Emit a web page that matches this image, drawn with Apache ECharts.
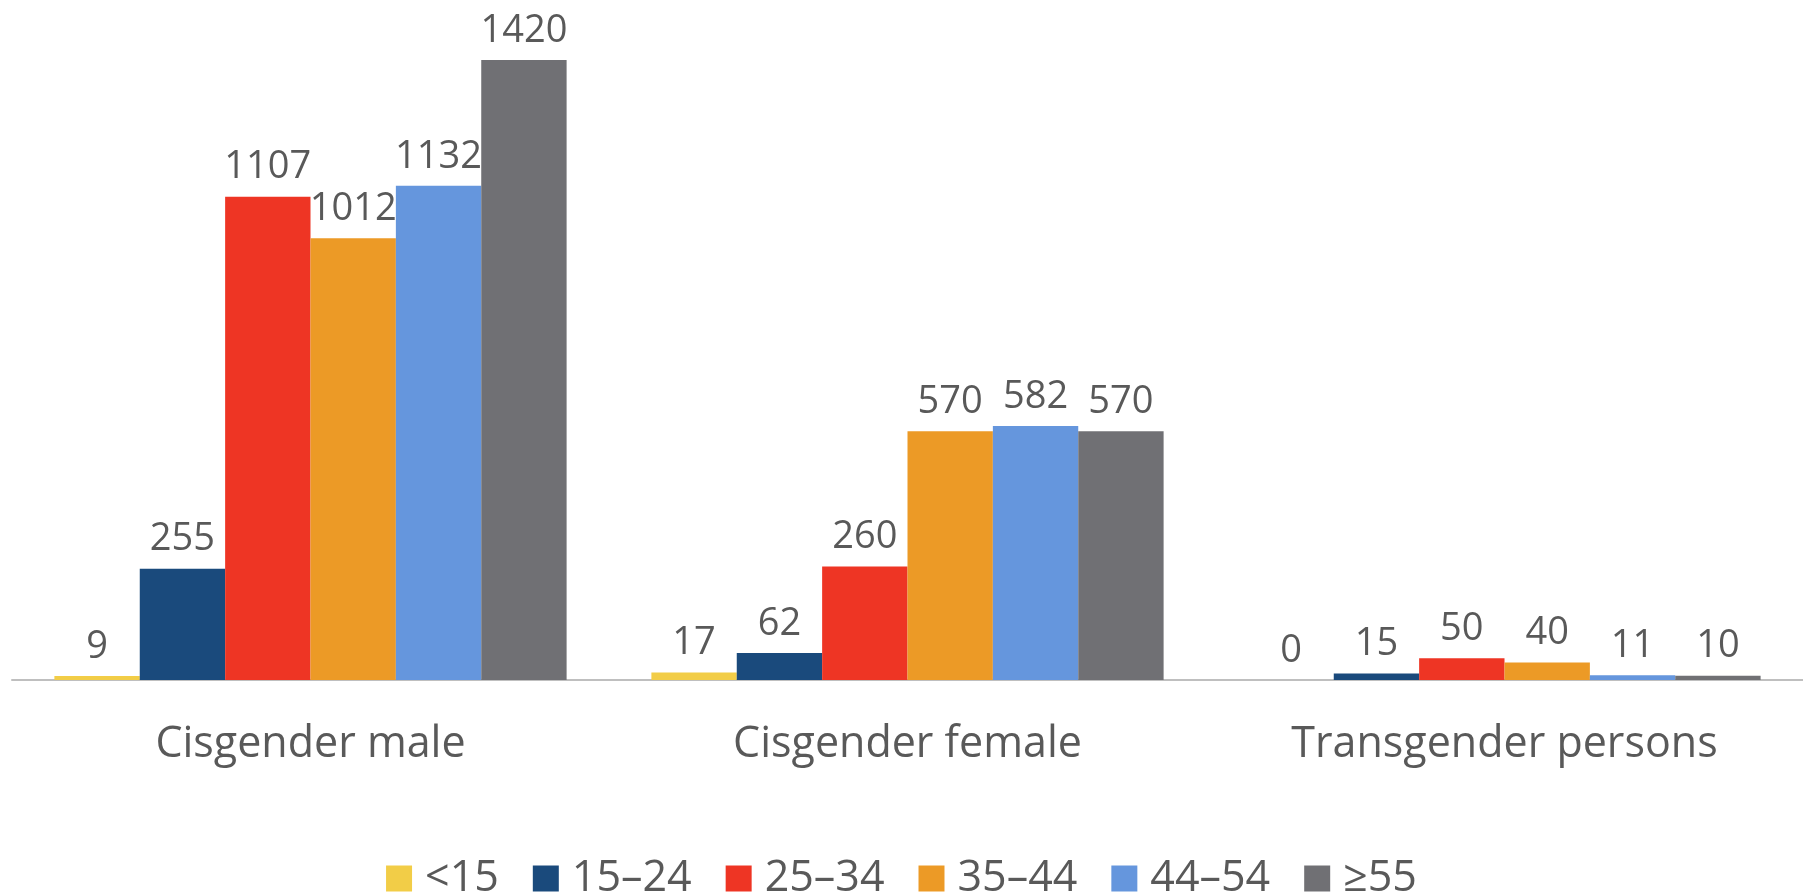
<!DOCTYPE html>
<html>
<head>
<meta charset="utf-8">
<script src="https://cdn.jsdelivr.net/npm/echarts@6/dist/echarts.min.js"></script>
<style>
  html, body { margin: 0; padding: 0; background: #fff; }
  #chart { width: 1803px; height: 893px; }
</style>
</head>
<body>
<div id="chart"></div>
<script>
// categories on x axis
const categories = ['Cisgender male', 'Cisgender female', 'Transgender persons']
// age groups (series)
const ageGroups = ['<15', '15–24', '25–34', '35–44', '44–54', '≥55']
const colors = ['#f2cd47', '#1a4a7c', '#ee3524', '#ec9a26', '#6596dd', '#707074']
// values per age group, in category order
const under15 = [9, 17, 0]
const age15to24 = [255, 62, 15]
const age25to34 = [1107, 260, 50]
const age35to44 = [1012, 570, 40]
const age44to54 = [1132, 582, 11]
const age55plus = [1420, 570, 10]
const seriesValues = [under15, age15to24, age25to34, age35to44, age44to54, age55plus]

const font = '"Open Sans", "Noto Sans", sans-serif'
const chart = echarts.init(document.getElementById('chart'))

const option = {
  animation: false,
  backgroundColor: '#ffffff',
  grid: { left: 12, right: 0, top: 60, bottom: 213, containLabel: false },
  legend: {
    top: 852,
    left: 'center',
    itemWidth: 26,
    itemHeight: 26,
    itemGap: 34,
    icon: 'rect',
    textStyle: { fontFamily: font, fontSize: 43, color: '#595959', padding: [0, 0, 0, 8] },
    data: ageGroups
  },
  xAxis: {
    type: 'category',
    data: categories,
    axisLine: { lineStyle: { color: '#bfbfbf', width: 2 } },
    axisTick: { show: false },
    axisLabel: { fontFamily: font, fontSize: 43, color: '#595959', margin: 43 }
  },
  yAxis: {
    type: 'value',
    min: 0,
    max: 1420,
    show: false,
    splitLine: { show: false }
  },
  series: ageGroups.map((name, i) => ({
    name: name,
    type: 'bar',
    data: seriesValues[i],
    barGap: '0%',
    barCategoryGap: '14.2%',
    itemStyle: { color: colors[i] },
    label: {
      show: true,
      position: 'top',
      distance: 10,
      fontFamily: font,
      fontSize: 38,
      color: '#595959'
    }
  }))
}

chart.setOption(option)
</script>
</body>
</html>
